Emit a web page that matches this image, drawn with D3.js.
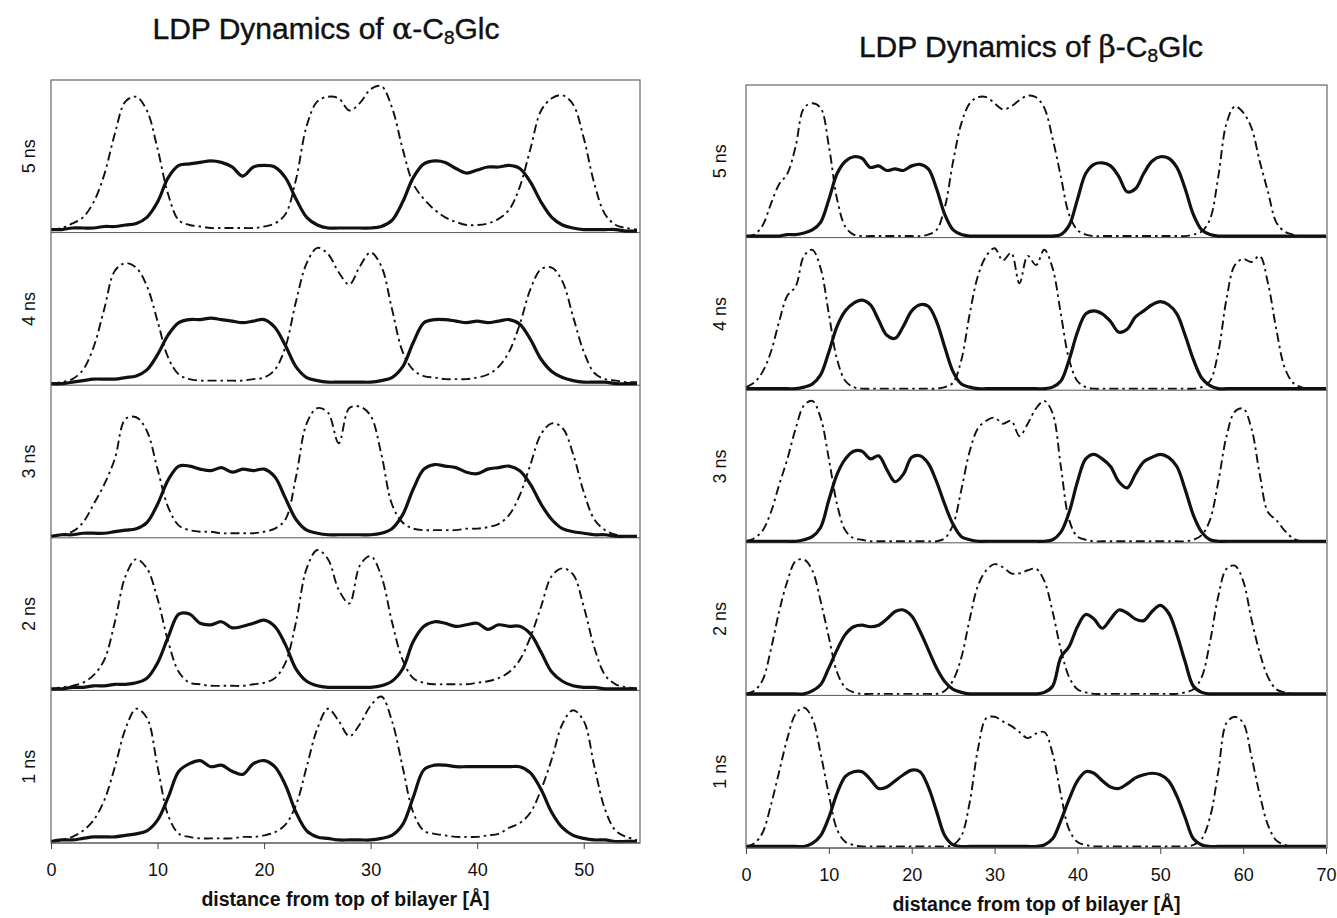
<!DOCTYPE html>
<html>
<head>
<meta charset="utf-8">
<script src="https://cdn.jsdelivr.net/npm/d3@7"></script>
<style>
body { margin: 0; background: #fff; }
svg { display: block; }
text { font-family: "Liberation Sans", Arial, sans-serif; fill: #111; }
</style>
</head>
<body>
<script>
// distance grids [A]
var alphaX = [0,1,2,3,4,5,6,7,8,9,10,11,12,13,14,15,16,17,18,19,20,21,22,23,24,25,26,27,28,29,
    30,31,32,33,34,35,36,37,38,39,40,41,42,43,44,45,46,47,48,49,50,51,52,53,54,55];
var betaX = [0,1,2,3,4,5,6,7,8,9,10,11,12,13,14,15,16,17,18,19,20,21,22,23,24,25,26,27,28,29,
    30,31,32,33,34,35,36,37,38,39,40,41,42,43,44,45,46,47,48,49,50,51,52,53,54,55,56,57,58,59,
    60,61,62,63,64,65,66,67,68,69,70];

var rowLabels = ["5 ns", "4 ns", "3 ns", "2 ns", "1 ns"];
var alphaTicks = [0, 10, 20, 30, 40, 50];
var betaTicks = [0, 10, 20, 30, 40, 50, 60, 70];

// alpha-C8Glc : dash-dot = headgroup, solid = chains (relative density)
var alpha5Dash = [.02,.03,.06,.10,.20,.38,.65,.86,.89,.80, .55,.25,.08,.05,.04,.03,.03,.03,.03,.03,
    .04,.06,.12,.35,.70,.86,.89,.88,.80,.85, .94,.96,.82,.55,.32,.22,.15,.10,.07,.05,
    .05,.06,.09,.15,.30,.55,.80,.88,.90,.84, .62,.32,.12,.05,.03,.02];
var alpha5Solid = [.02,.02,.03,.03,.03,.04,.04,.05,.06,.10, .20,.36,.44,.45,.46,.47,.46,.43,.37,.43,
    .44,.43,.36,.22,.10,.05,.03,.03,.03,.03, .03,.04,.08,.20,.36,.45,.47,.46,.42,.39,
    .41,.43,.43,.44,.42,.33,.20,.10,.05,.03, .02,.02,.02,.02,.01,.01];
var alpha4Dash = [.01,.02,.04,.10,.25,.50,.75,.80,.77,.65, .42,.18,.07,.04,.03,.03,.03,.03,.03,.04,
    .05,.10,.25,.55,.80,.90,.86,.74,.66,.78, .87,.78,.50,.22,.10,.06,.05,.04,.04,.04,
    .05,.07,.12,.22,.40,.63,.76,.77,.68,.45, .22,.08,.04,.03,.02,.02];
var alpha4Solid = [.01,.01,.02,.03,.04,.04,.04,.05,.06,.10, .20,.33,.41,.43,.43,.44,.43,.42,.41,.42,
    .43,.38,.26,.12,.05,.03,.02,.02,.02,.02, .02,.03,.05,.12,.28,.41,.43,.43,.42,.41,
    .42,.41,.42,.43,.40,.30,.17,.09,.05,.03, .02,.02,.02,.01,.01,.01];
var alpha3Dash = [.01,.02,.04,.10,.22,.35,.52,.78,.79,.70, .45,.20,.08,.05,.04,.04,.03,.03,.03,.03,
    .04,.06,.12,.40,.75,.85,.82,.62,.85,.86, .80,.55,.22,.10,.06,.05,.05,.05,.05,.06,
    .06,.07,.09,.15,.28,.48,.68,.75,.72,.55, .30,.12,.05,.02,.01,.01];
var alpha3Solid = [.01,.02,.02,.03,.03,.03,.04,.05,.06,.10, .22,.38,.47,.47,.45,.44,.46,.43,.45,.44,
    .45,.40,.26,.12,.05,.03,.02,.02,.02,.02, .02,.03,.06,.15,.32,.45,.48,.47,.46,.43,
    .42,.45,.46,.47,.44,.35,.22,.12,.06,.04, .03,.02,.02,.01,.01,.01];
var alpha2Dash = [.01,.02,.03,.05,.10,.20,.45,.75,.86,.80, .60,.32,.12,.05,.04,.03,.03,.03,.03,.04,
    .05,.08,.18,.45,.80,.92,.86,.66,.57,.82, .88,.75,.45,.20,.08,.05,.04,.04,.04,.04,
    .05,.06,.08,.12,.20,.35,.55,.75,.80,.76, .55,.28,.10,.04,.02,.01];
var alpha2Solid = [.01,.01,.02,.02,.03,.03,.04,.04,.05,.08, .18,.35,.50,.50,.44,.43,.45,.41,.42,.44,
    .46,.42,.30,.14,.06,.03,.02,.02,.02,.02, .02,.03,.06,.14,.32,.42,.45,.44,.42,.43,
    .44,.40,.43,.42,.42,.37,.25,.12,.06,.03, .02,.02,.01,.01,.01,.01];
var alpha1Dash = [.01,.02,.04,.08,.15,.28,.50,.75,.88,.82, .50,.18,.06,.04,.03,.03,.03,.03,.04,.04,
    .05,.07,.12,.25,.50,.75,.88,.80,.70,.78, .90,.96,.80,.50,.20,.08,.06,.05,.04,.04,
    .04,.05,.06,.10,.13,.20,.35,.55,.78,.87, .80,.50,.22,.08,.04,.02];
var alpha1Solid = [.01,.02,.02,.03,.04,.04,.04,.05,.06,.08, .15,.30,.47,.52,.54,.50,.51,.47,.45,.52,
    .54,.50,.38,.20,.08,.04,.03,.02,.02,.02, .02,.03,.05,.12,.30,.48,.51,.51,.50,.50,
    .50,.50,.50,.50,.50,.46,.35,.20,.10,.05, .03,.02,.02,.01,.01,.01];

// beta-C8Glc
var beta5Dash = [.01,.02,.08,.22,.35,.42,.60,.85,.88,.85, .60,.25,.07,.02,.01,.01,.01,.01,.01,.01,
    .01,.01,.02,.05,.20,.50,.75,.88,.92,.92, .88,.84,.86,.90,.93,.92,.85,.65,.40,.15,
    .05,.02,.01,.01,.01,.01,.01,.01,.01,.01, .01,.01,.01,.01,.02,.04,.12,.40,.75,.86,
    .82,.72,.50,.30,.10,.04,.02,.01,.01,.01, .01];
var beta5Solid = [.01,.01,.01,.01,.01,.02,.02,.03,.05,.10, .25,.42,.50,.53,.52,.46,.47,.44,.45,.44,
    .47,.48,.45,.32,.15,.05,.02,.01,.01,.01, .01,.01,.01,.01,.01,.01,.01,.01,.02,.08,
    .25,.42,.48,.49,.47,.40,.30,.32,.42,.50, .53,.52,.46,.32,.15,.05,.02,.01,.01,.01,
    .01,.01,.01,.01,.01,.01,.01,.01,.01,.01, .01];
var beta4Dash = [.02,.05,.12,.25,.45,.62,.68,.88,.92,.80, .50,.20,.06,.02,.01,.01,.01,.01,.01,.01,
    .01,.01,.01,.01,.02,.05,.20,.50,.75,.88, .93,.85,.90,.70,.88,.82,.92,.80,.50,.20,
    .06,.02,.01,.01,.01,.01,.01,.01,.01,.01, .01,.01,.01,.01,.01,.02,.06,.25,.60,.82,
    .86,.84,.88,.70,.40,.15,.05,.02,.01,.01, .01];
var beta4Solid = [.01,.01,.01,.01,.01,.01,.01,.02,.04,.10, .25,.42,.52,.57,.59,.56,.46,.36,.34,.42,
    .52,.56,.55,.45,.28,.12,.04,.02,.01,.01, .01,.01,.01,.01,.01,.01,.01,.02,.06,.20,
    .38,.50,.52,.50,.45,.38,.40,.48,.52,.56, .58,.56,.50,.36,.20,.08,.03,.01,.01,.01,
    .01,.01,.01,.01,.01,.01,.01,.01,.01,.01, .01];
var beta3Dash = [.01,.03,.08,.20,.38,.55,.75,.90,.93,.82, .55,.25,.08,.03,.02,.01,.01,.01,.01,.01,
    .01,.01,.01,.01,.03,.12,.35,.60,.75,.80, .82,.78,.80,.70,.78,.88,.93,.85,.50,.15,
    .04,.02,.01,.01,.01,.01,.01,.01,.01,.01, .01,.01,.01,.01,.02,.05,.15,.40,.70,.86,
    .88,.75,.45,.20,.15,.08,.03,.01,.01,.01, .01];
var beta3Solid = [.01,.01,.01,.01,.01,.01,.01,.02,.04,.10, .28,.45,.55,.60,.60,.55,.57,.48,.40,.45,
    .56,.57,.52,.40,.25,.12,.04,.02,.01,.01, .01,.01,.01,.01,.01,.01,.01,.02,.07,.20,
    .40,.55,.58,.55,.50,.40,.36,.45,.53,.56, .58,.56,.50,.35,.18,.07,.02,.01,.01,.01,
    .01,.01,.01,.01,.01,.01,.01,.01,.01,.01, .01];
var beta2Dash = [.01,.03,.10,.30,.55,.75,.88,.89,.82,.62, .38,.15,.05,.02,.01,.01,.01,.01,.01,.01,
    .01,.01,.01,.01,.03,.10,.25,.50,.72,.82, .86,.84,.80,.80,.82,.83,.75,.55,.30,.12,
    .04,.02,.01,.01,.01,.01,.01,.01,.01,.01, .01,.01,.01,.02,.04,.12,.35,.65,.83,.85,
    .75,.50,.28,.12,.04,.02,.01,.01,.01,.01, .01];
var beta2Solid = [.01,.01,.01,.01,.01,.01,.01,.01,.03,.07, .18,.30,.40,.45,.46,.45,.46,.50,.55,.56,
    .52,.42,.30,.18,.09,.04,.02,.01,.01,.01, .01,.01,.01,.01,.01,.01,.02,.06,.25,.32,
    .45,.53,.50,.44,.50,.56,.54,.50,.49,.55, .59,.54,.40,.22,.06,.02,.01,.01,.01,.01,
    .01,.01,.01,.01,.01,.01,.01,.01,.01,.01, .01];
var beta1Dash = [.01,.03,.10,.28,.50,.72,.88,.92,.85,.62, .35,.12,.04,.02,.01,.01,.01,.01,.01,.01,
    .01,.01,.01,.01,.01,.02,.08,.30,.65,.85, .86,.83,.80,.76,.72,.75,.76,.62,.35,.12,
    .04,.02,.01,.01,.01,.01,.01,.01,.01,.01, .01,.01,.01,.01,.02,.06,.20,.50,.82,.86,
    .82,.60,.35,.15,.05,.02,.01,.01,.01,.01, .01];
var beta1Solid = [.01,.01,.01,.01,.01,.01,.01,.01,.03,.08, .20,.36,.47,.50,.50,.45,.39,.40,.44,.48,
    .51,.50,.40,.24,.08,.02,.01,.01,.01,.01, .01,.01,.01,.01,.01,.01,.02,.06,.18,.32,
    .44,.50,.49,.44,.40,.39,.42,.46,.48,.49, .48,.44,.34,.20,.06,.02,.01,.01,.01,.01,
    .01,.01,.01,.01,.01,.01,.01,.01,.01,.01, .01];

var svg = d3.select("body").append("svg")
    .attr("width", 1337)
    .attr("height", 918);

function drawPanel(p) {
    var g = svg.append("g");
    var x = d3.scaleLinear().domain(p.domain).range([p.left, p.right]);
    var rowH = (p.bottom - p.top) / p.rows.length;

    //rows, top one first (5 ns)
    p.rows.forEach(function(r, i) {
        var base = p.top + rowH * (i + 1);
        var y = d3.scaleLinear().domain([0, 1]).range([base, base - rowH]);
        var line = d3.line()
            .x(function(d, j) { return x(p.xs[j]); })
            .y(function(d) { return y(d); })
            .curve(d3.curveCatmullRom.alpha(0.5));

        g.append("line")
            .attr("x1", p.left).attr("x2", p.boxRight)
            .attr("y1", y(0)).attr("y2", y(0))
            .attr("stroke", "#555").attr("stroke-width", 1);

        g.append("path")
            .datum(r[0])
            .attr("d", line)
            .attr("fill", "none")
            .attr("stroke", "#111")
            .attr("stroke-width", 1.9)
            .attr("stroke-dasharray", "9,4,2.5,4");

        g.append("path")
            .datum(r[1])
            .attr("d", line)
            .attr("fill", "none")
            .attr("stroke", "#111")
            .attr("stroke-width", 3.2)
            .attr("stroke-linejoin", "round");

        g.append("text")
            .attr("transform", "translate(" + p.labelX + "," + (base - rowH / 2) + ") rotate(-90)")
            .attr("text-anchor", "middle")
            .attr("dy", "0.35em")
            .style("font-size", "18px")
            .text(rowLabels[i]);
    });

    //box
    g.append("rect")
        .attr("x", p.left).attr("y", p.top)
        .attr("width", p.boxRight - p.left).attr("height", p.bottom - p.top)
        .attr("fill", "none").attr("stroke", "#666").attr("stroke-width", 1.2);

    //x axis
    var xAxis = d3.axisBottom(x).tickValues(p.ticks).tickSize(6).tickSizeOuter(0).tickPadding(14);
    var ax = g.append("g")
        .attr("transform", "translate(0," + p.bottom + ")")
        .call(xAxis);
    ax.select(".domain").remove();
    ax.selectAll(".tick line").attr("stroke", "#444");
    ax.selectAll(".tick text")
        .style("font-size", "18px")
        .style("font-family", "'Liberation Sans', Arial, sans-serif")
        .attr("fill", "#111");

    g.append("text")
        .attr("x", (p.left + p.boxRight) / 2)
        .attr("y", p.labelY)
        .attr("text-anchor", "middle")
        .style("font-size", "19.5px")
        .style("font-weight", "bold")
        .text("distance from top of bilayer [Å]");

    //title with subscript
    var t = g.append("text")
        .attr("x", p.titleX)
        .attr("y", p.titleY)
        .attr("text-anchor", "middle")
        .attr("stroke", "#111")
        .attr("stroke-width", 0.4)
        .style("font-size", "30px");
    t.append("tspan").text("LDP Dynamics of ");
    t.append("tspan").style("font-family", "'DejaVu Serif', serif").text(p.greek);
    t.append("tspan").text("-C");
    t.append("tspan").attr("dy", 5).style("font-size", "19px").text("8");
    t.append("tspan").attr("dy", -5).text("Glc");
}

drawPanel({
    domain: [0, 55], left: 51, right: 637, boxRight: 640, top: 80, bottom: 843,
    xs: alphaX, ticks: alphaTicks,
    rows: [[alpha5Dash, alpha5Solid], [alpha4Dash, alpha4Solid], [alpha3Dash, alpha3Solid],
           [alpha2Dash, alpha2Solid], [alpha1Dash, alpha1Solid]],
    labelX: 29, labelY: 906, titleX: 326, titleY: 39, greek: "α"
});

drawPanel({
    domain: [0, 70], left: 746, right: 1326, boxRight: 1327, top: 85, bottom: 848,
    xs: betaX, ticks: betaTicks,
    rows: [[beta5Dash, beta5Solid], [beta4Dash, beta4Solid], [beta3Dash, beta3Solid],
           [beta2Dash, beta2Solid], [beta1Dash, beta1Solid]],
    labelX: 720, labelY: 911, titleX: 1031, titleY: 57, greek: "β"
});
</script>
</body>
</html>
